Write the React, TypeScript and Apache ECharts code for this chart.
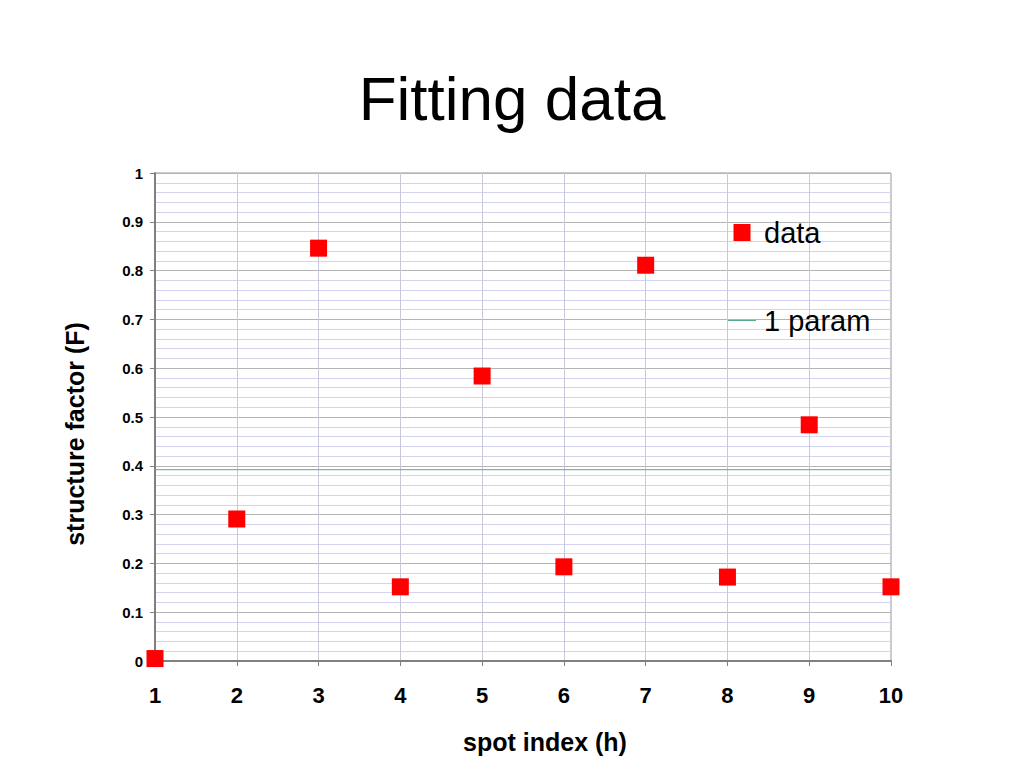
import { useEffect, useRef } from "react";
import * as echarts from "echarts";

// spot index (h) and the structure factor read for each spot
const spots = [1, 2, 3, 4, 5, 6, 7, 8, 9, 10];
const factors = [0.005, 0.291, 0.846, 0.152, 0.584, 0.193, 0.811, 0.172, 0.484, 0.152];
// the one-parameter fit: a flat line across the whole index range
const fitRange = [1, 10];
const fitValue = 0.392;

const FONT = "'Liberation Sans', Arial, sans-serif";

function App() {
  const chartRef = useRef<HTMLDivElement>(null);

  useEffect(() => {
    const chart = echarts.init(chartRef.current, null, { renderer: "svg" });

    chart.setOption({
      animation: false,
      backgroundColor: "#ffffff",
      textStyle: { fontFamily: FONT },
      title: {
        text: "Fitting data",
        left: "center",
        top: 62,
        textStyle: { fontSize: 62, fontWeight: "normal", color: "#000", fontFamily: FONT }
      },
      legend: {
        orient: "vertical",
        left: 723,
        top: 213,
        itemGap: 59,
        itemWidth: 28,
        itemHeight: 17,
        textStyle: { fontSize: 29, color: "#000", fontFamily: FONT, padding: [0, 0, 0, 3] },
        data: [
          { name: "data", icon: "path://M0,0h16v16h-16z" },
          { name: "1 param", icon: "path://M0,0h28v1h-28z" }
        ]
      },
      grid: {
        left: 155,
        right: 133,
        top: 173,
        bottom: 107,
        show: true,
        borderColor: "#9a9a9a",
        borderWidth: 1
      },
      xAxis: {
        type: "value",
        min: 1,
        max: 10,
        interval: 1,
        name: "spot index (h)",
        nameLocation: "middle",
        nameGap: 68,
        nameTextStyle: {
          fontSize: 25,
          fontWeight: "bold",
          color: "#000",
          fontFamily: FONT,
          padding: [0, 0, 0, 44]
        },
        axisLine: { lineStyle: { color: "#808080", width: 2 } },
        axisTick: { show: true, length: 5, lineStyle: { color: "#808080" } },
        axisLabel: { fontSize: 22, fontWeight: "bold", color: "#000", margin: 23, fontFamily: FONT },
        splitLine: { show: true, lineStyle: { color: "#c8c8dc", width: 1 } }
      },
      yAxis: {
        type: "value",
        min: 0,
        max: 1,
        interval: 0.1,
        name: "structure factor (F)",
        nameLocation: "middle",
        nameGap: 68,
        nameTextStyle: {
          fontSize: 25,
          fontWeight: "bold",
          color: "#000",
          fontFamily: FONT,
          padding: [0, 34, 0, 0]
        },
        axisLine: { show: true, lineStyle: { color: "#808080", width: 2 } },
        axisTick: { show: true, length: 5, lineStyle: { color: "#808080" } },
        axisLabel: { fontSize: 15, fontWeight: "bold", color: "#000", margin: 12, fontFamily: FONT },
        splitLine: { show: true, lineStyle: { color: "#b4b4b4", width: 1 } },
        minorTick: { show: false, splitNumber: 5 },
        minorSplitLine: { show: true, lineStyle: { color: "#d4d4f0", width: 1 } }
      },
      series: [
        {
          name: "data",
          type: "scatter",
          symbol: "rect",
          symbolSize: 17,
          itemStyle: { color: "#ff0000", opacity: 1 },
          data: spots.map((h, i) => [h, factors[i]]),
          z: 5
        },
        {
          name: "1 param",
          type: "line",
          symbol: "none",
          lineStyle: { color: "#5aa88a", width: 1 },
          itemStyle: { color: "#5aa88a" },
          data: fitRange.map((h) => [h, fitValue]),
          z: 3
        }
      ]
    });

    return () => {
      chart.dispose();
    };
  }, []);

  return (
    <div
      ref={chartRef}
      style={{ position: "fixed", left: 0, top: 0, width: "1024px", height: "768px" }}
    ></div>
  );
}

export default App;
